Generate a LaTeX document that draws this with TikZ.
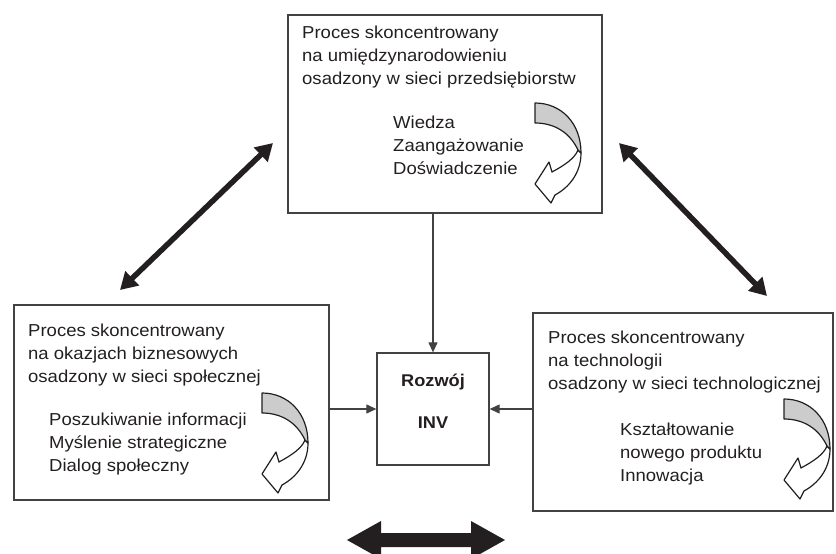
\documentclass[tikz,border=0pt]{standalone}
\usepackage{fontspec}
\setmainfont{Liberation Sans}[FakeStretch=1.07]
\usetikzlibrary{arrows.meta}
\definecolor{ink}{HTML}{231F20}
\begin{document}
\begin{tikzpicture}[x=1pt,y=-1pt,
  box/.style={draw=ink!85, line width=1.3pt, inner sep=0pt},
  txt/.style={anchor=north west, align=left, inner sep=0pt, text=ink,
    font=\fontsize{17.3}{22.8}\selectfont},
  btxt/.style={inner sep=0pt, text=ink, font=\fontsize{17}{20}\selectfont\bfseries},
  conn/.style={draw=ink!85, line width=1.1pt, -{Triangle[length=10pt,width=9pt]}},
  thick2/.style={draw=ink, line width=5.5pt, {Triangle[length=17pt,width=19pt]}-{Triangle[length=17pt,width=19pt]}},
  arrline/.style={draw=ink, line width=1.2pt, line join=round},
  curvarrow/.pic={
    \draw[arrline, fill=white] (46,50) .. controls (46,71) and (33,85) .. (20,92)
      -- (16,100) -- (0,81) -- (14,59) -- (17,69)
      .. controls (30,62) and (40,55) .. (43,47) -- cycle;
    \draw[arrline, fill=gray!40] (0,0) .. controls (26,0) and (46,20) .. (46,50)
      -- (43,47) .. controls (35,30) and (20,20) .. (0,20) -- cycle;
  }]
\useasboundingbox (0,0) rectangle (836,554);
\clip (0,0) rectangle (836,554);

% boxes
\node[box, minimum width=314pt, minimum height=198pt] (top) at (445,114) {};
\node[box, minimum width=315pt, minimum height=195pt] (left) at (171.5,402.5) {};
\node[box, minimum width=300pt, minimum height=198pt] (right) at (683,412) {};
\node[box, minimum width=112pt, minimum height=112pt] (inv) at (433,409) {};

% texts (north west = top of first line)
\node[txt] (tA) at (302,26) {Proces skoncentrowany\\na umiędzynarodowieniu\\osadzony w sieci przedsiębiorstw};
\node[txt] (tB) at (393,116) {Wiedza\\Zaangażowanie\\Doświadczenie};
\node[txt] (lA) at (28,324) {Proces skoncentrowany\\na okazjach biznesowych\\osadzony w sieci społecznej};
\node[txt] (lB) at (49,413) {Poszukiwanie informacji\\Myślenie strategiczne\\Dialog społeczny};
\node[txt] (rA) at (548,331) {Proces skoncentrowany\\na technologii\\osadzony w sieci technologicznej};
\node[txt] (rB) at (620,423) {Kształtowanie\\nowego produktu\\Innowacja};
\node[btxt] (roz) at (433,382) {Rozwój};
\node[btxt] (invt) at (433,423) {INV};

% curved arrows
\pic (cA) at (535,103) {curvarrow};
\pic (cB) at (262,393) {curvarrow};
\pic (cC) at (784,399) {curvarrow};

% connectors
\draw[conn] (top.south -| inv.north) -- (inv.north);
\draw[conn] (left.east |- inv.west) -- (inv.west);
\draw[conn] (right.west |- inv.east) -- (inv.east);

% thick double arrows
\coordinate (d1a) at (273,143);
\coordinate (d1b) at (120,290);
\coordinate (d2a) at (619,143);
\coordinate (d2b) at (767,296);
\draw[thick2] (d1a) -- (d1b);
\draw[thick2] (d2a) -- (d2b);

% bottom horizontal double arrow
\fill[ink] (347,540) -- (381,521) -- (381,533) -- (471,533) -- (471,521)
  -- (505,540) -- (471,559) -- (471,547) -- (381,547) -- (381,559) -- cycle;
\end{tikzpicture}
\end{document}
